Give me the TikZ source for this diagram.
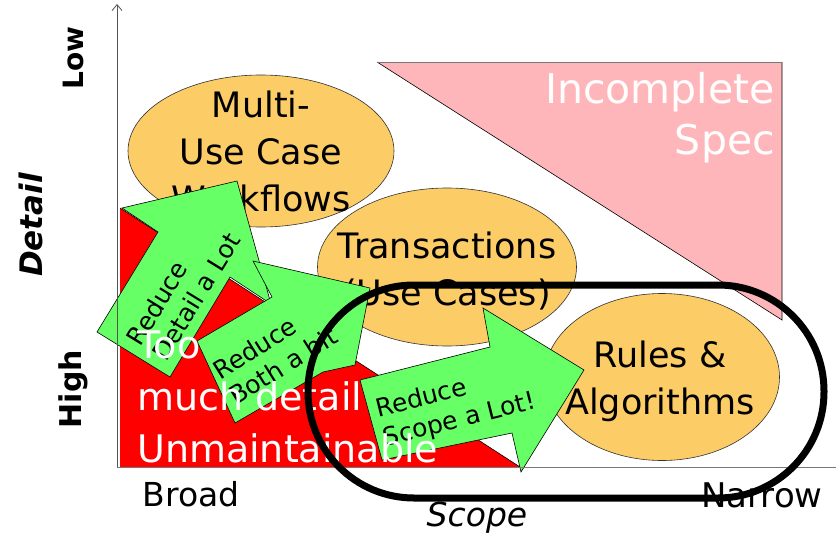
\documentclass[tikz,border=0pt]{standalone}
\usepackage{fontspec}
\setmainfont{DejaVu Sans}
\usetikzlibrary{shapes.geometric,arrows.meta}
\definecolor{ellfill}{RGB}{252,204,102}
\definecolor{arrgreen}{RGB}{102,255,102}
\definecolor{pinkfill}{RGB}{255,182,186}
\definecolor{axisgray}{RGB}{120,120,120}
\begin{document}
\begin{tikzpicture}[x=1pt,y=-1pt,
  ovalshape/.style={ellipse, draw=black!80, line width=0.6pt, fill=ellfill, inner sep=0pt},
  ovaltext/.style={align=center, inner sep=0pt, font=\fontsize{35}{47}\selectfont},
  bigarrow/.style={fill=arrgreen, draw=black, line width=0.6pt},
  arrowtext/.style={align=left, inner sep=0pt, font=\fontsize{25}{30}\selectfont},
  zonetext/.style={text=white, inner sep=0pt},
  axislabel/.style={inner sep=0pt, font=\fontsize{33}{38}\selectfont},
  sidelabel/.style={inner sep=0pt, rotate=90}]
\fill[white] (0,0) rectangle (836,541);
\useasboundingbox (0,0) rectangle (836,541);
% zones
\fill[red] (120,208) -- (120,467) -- (520,467) -- cycle;
\draw[black, line width=0.6pt] (120,208) -- (520,467);
\fill[pinkfill] (377,62) -- (782,62) -- (782,320) -- cycle;
\draw[black, line width=0.6pt] (377,62) -- (782,320) -- (782,62);
\draw[axisgray, line width=0.6pt] (377,62) -- (782,62);
% ellipses
\node[ovalshape, minimum width=266pt, minimum height=152pt] (multi) at (261,151) {};
\node[ovaltext] (multitext) at (multi.center) {Multi-\\Use Case\\Workflows};
\node[ovalshape, minimum width=259pt, minimum height=158pt] (trans) at (447,267) {};
\node[ovaltext] (transtext) at (447,271) {Transactions\\(Use Cases)};
\node[ovalshape, minimum width=235pt, minimum height=167pt] (rules) at (662,377) {};
\node[ovaltext] (rulestext) at (660,381) {Rules \&\\Algorithms};
% green arrows
\draw[bigarrow] (122,208) -- (237,181) -- (271,304) -- (230,277) -- (170,377) -- (97,332) -- (158,232) -- cycle;
\node[arrowtext, rotate=58.5] (detaillot) at (183,289) {Reduce\\Detail a Lot};
\draw[bigarrow] (197,341) -- (272,297) -- (253,261) -- (370,288) -- (355,365) -- (323,372) -- (235,423) -- cycle;
\node[arrowtext, rotate=32] (bothbit) at (275,353) {Reduce\\Both a bit};
\draw[bigarrow] (360,380) -- (490,347) -- (483,308) -- (584,370) -- (521,472) -- (512,433) -- (382,460) -- cycle;
\node[arrowtext, rotate=14] (scopelot) at (456,406) {Reduce\\Scope a Lot!};
% zone texts
\node[zonetext, align=left, anchor=north west, font=\fontsize{38}{52}\selectfont] (toomuch) at (137,331) {Too\\much detail\\Unmaintainable};
\node[zonetext, align=right, anchor=north east, font=\fontsize{41}{51}\selectfont] (incomplete) at (775,72) {Incomplete\\Spec};
% axes
\coordinate (origin) at (117,467);
\coordinate (ytop) at (117,4);
\coordinate (xend) at (836,467);
\draw[axisgray, line width=0.8pt] (origin) -- (xend);
\draw[axisgray!70!black, line width=0.8pt, -{Straight Barb[length=6pt,width=10pt]}] (origin) -- (ytop);
% focus loop
\draw[black, line width=7pt, rounded corners=106pt] (308,285) rectangle (824,498);
% labels
\node[axislabel] (broad) at (191,494) {Broad};
\node[axislabel, font=\itshape\fontsize{33}{38}\selectfont] (scope) at (477,518) {Scope};
\node[axislabel, font=\fontsize{34}{38}\selectfont] (narrow) at (762,495) {Narrow};
\node[sidelabel, font=\bfseries\fontsize{28}{34}\selectfont] (low) at (73,58) {Low};
\node[sidelabel, font=\bfseries\fontsize{30}{36}\selectfont] (high) at (73,389) {High};
\node[sidelabel, font=\bfseries\itshape\fontsize{31}{36}\selectfont] (detail) at (31,225) {Detail};
\end{tikzpicture}
\end{document}
